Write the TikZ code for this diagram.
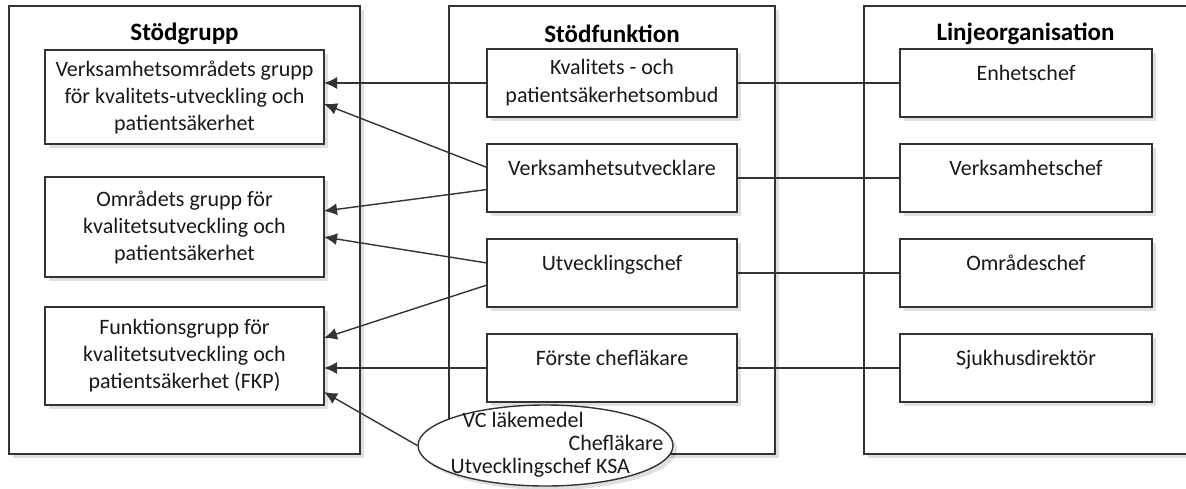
\documentclass[tikz,border=0pt]{standalone}
\usepackage{fontspec}
\setmainfont{Carlito}
\usetikzlibrary{positioning,shapes.geometric,shadows,arrows.meta}

\begin{document}
\begin{tikzpicture}[
		x=0.5pt, y=-0.5pt,
		node distance=13.5pt and 81.5pt,
		ar/.style={-{Latex[length=6.5pt,width=6pt]}, draw=black!80, line width=0.7pt},
		ln/.style={draw=black!80, line width=0.7pt},
		shd/.style={drop shadow={shadow xshift=2pt, shadow yshift=-2pt, opacity=0.12, fill=black}},
		outerbox/.style={draw=black!80, fill=white, line width=0.7pt, minimum height=224pt, inner sep=0, outer sep=0, shd},
		title/.style={font=\fontsize{12.5}{14}\selectfont\bfseries, text=black},
		grpbox/.style={draw=black!80, fill=white, line width=0.7pt, minimum width=139.5pt, align=center, inner sep=0, outer sep=0, font=\fontsize{11}{13.5}\selectfont, text=black!90, shd},
		funbox/.style={draw=black!80, fill=white, line width=0.7pt, minimum width=125pt, minimum height=34pt, align=center, inner sep=0, outer sep=0, font=\fontsize{11}{14}\selectfont, text=black!90, shd},
		linbox/.style={funbox, minimum width=126pt},
		oneline/.style={text height=8pt, text depth=11pt},
		ellbox/.style={ellipse, draw=black!80, fill=white, line width=0.7pt, minimum width=127.5pt, minimum height=40.5pt, inner sep=0, shd}
	]
	\clip (0,0) rectangle (1186,488);
	\node[outerbox, minimum width=175.5pt] (sgrp) at (184.5,230) {};
	\node[outerbox, minimum width=163pt] (sfun) at (612,230) {};
	\node[outerbox, minimum width=178pt] (linj) at (1042,230) {};
	\node[title] (tgrp) at (184.5,34) {Stödgrupp};
	\node[title] (tfun) at (612,34) {Stödfunktion};
	\node[title] (tlinj) at (1025.5,34) {Linjeorganisation};

	\node[grpbox, minimum height=47pt] (g1) at (184.5,97) {Verksamhetsområdets grupp\\för kvalitets-utveckling och\\patientsäkerhet};
	\node[grpbox, minimum height=50pt, below=16.5pt of g1] (g2) {Områdets grupp för\\kvalitetsutveckling och\\patientsäkerhet};
	\node[grpbox, minimum height=49pt, below=15pt of g2] (g3) {Funktionsgrupp för\\kvalitetsutveckling och\\patientsäkerhet (FKP)};

	\node[funbox] (kval) at (612,83) {Kvalitets - och\\patientsäkerhetsombud};
	\node[funbox, oneline, below=of kval] (verk) {Verksamhetsutvecklare};
	\node[funbox, oneline, below=of verk] (utv) {Utvecklingschef};
	\node[funbox, oneline, below=of utv] (forst) {Förste chefläkare};

	\node[linbox, oneline, right=of kval] (enh) {Enhetschef};
	\node[linbox, oneline, right=of verk] (vchef) {Verksamhetschef};
	\node[linbox, oneline, right=of utv] (ochef) {Områdeschef};
	\node[linbox, oneline, right=of forst] (sjuk) {Sjukhusdirektör};

	\node[ellbox] (ell) at (545.5,445.5) {};
	\node[align=left, inner sep=0, font=\fontsize{11}{11.5}\selectfont, text=black!90] (elltxt) at (557,445) {\hspace*{6pt}VC läkemedel\\\hspace*{59pt}Chefläkare\\Utvecklingschef KSA};

	\draw[ar] (kval.west) -- (kval.west -| g1.east);
	\draw[ar] ([yshift=5.25pt]verk.west) -- ([yshift=-3.5pt]g1.east);
	\draw[ar] ([yshift=-5.75pt]verk.west) -- ([yshift=8pt]g2.east);
	\draw[ar] ([yshift=5pt]utv.west) -- ([yshift=-5pt]g2.east);
	\draw[ar] ([yshift=-6pt]utv.west) -- ([yshift=9pt]g3.east);
	\draw[ar] (forst.west) -- (forst.west -| g3.east);
	\draw[ar] (ell.west) -- ([yshift=-18pt]g3.east);

	\draw[ln] (kval.east) -- (enh.west);
	\draw[ln] (verk.east) -- (vchef.west);
	\draw[ln] (utv.east) -- (ochef.west);
	\draw[ln] (forst.east) -- (sjuk.west);
\end{tikzpicture}
\end{document}
